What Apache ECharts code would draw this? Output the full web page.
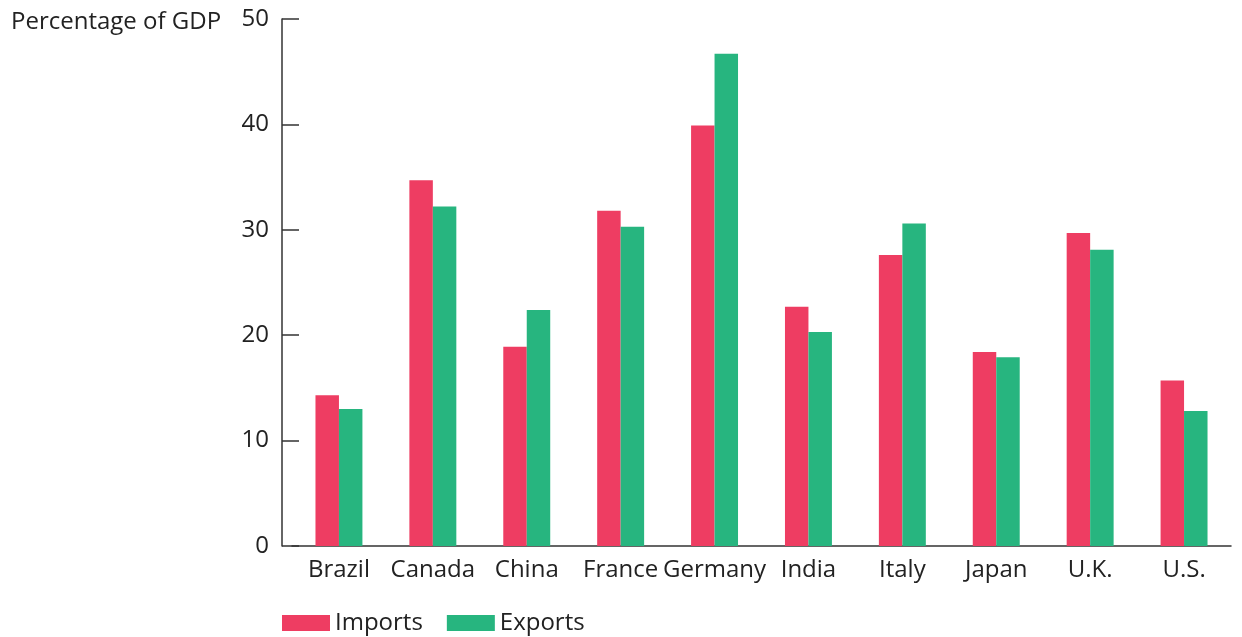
<!DOCTYPE html>
<html>
<head>
<meta charset="utf-8">
<script src="https://cdn.jsdelivr.net/npm/echarts@6/dist/echarts.min.js"></script>
<style>
  html, body { margin: 0; padding: 0; background: #fff; }
  #chart { width: 1242px; height: 637px; }
</style>
</head>
<body>
<div id="chart"></div>
<script>
const countries = ['Brazil', 'Canada', 'China', 'France', 'Germany', 'India', 'Italy', 'Japan', 'U.K.', 'U.S.'];
const imports = [14.3, 34.7, 18.9, 31.8, 39.9, 22.7, 27.6, 18.4, 29.7, 15.7];
const exports = [13.0, 32.2, 22.4, 30.3, 46.7, 20.3, 30.6, 17.9, 28.1, 12.8];

const font = 'Open Sans';
const ink = '#222';

const option = {
  backgroundColor: '#ffffff',
  color: ['#ee3d62', '#27b57f'],
  animation: false,
  title: {
    text: 'Percentage of GDP',
    left: 6,
    top: 5,
    textStyle: { fontFamily: font, fontSize: 24, fontWeight: 'normal', color: ink }
  },
  legend: {
    left: 277,
    top: 606,
    itemWidth: 48,
    itemHeight: 16,
    itemGap: 24,
    icon: 'rect',
    textStyle: { fontFamily: font, fontSize: 24, color: ink },
    data: ['Imports', 'Exports']
  },
  grid: {
    left: 292,
    right: 11,
    top: 19,
    bottom: 91
  },
  xAxis: {
    type: 'category',
    data: countries,
    axisLine: { lineStyle: { color: '#333', width: 1.5 } },
    axisTick: { show: false },
    axisLabel: { fontFamily: font, fontSize: 24, color: ink, margin: 12, interval: 0 }
  },
  yAxis: {
    type: 'value',
    min: 0,
    max: 50,
    interval: 10,
    offset: 10,
    axisLine: { show: true, lineStyle: { color: '#333', width: 1.5 } },
    axisTick: { show: true, inside: true, length: 17, lineStyle: { color: '#333', width: 1.5 } },
    splitLine: { show: false },
    axisLabel: { fontFamily: font, fontSize: 24, color: ink, margin: 13 }
  },
  series: [{
    name: 'Imports',
    type: 'bar',
    data: imports,
    barGap: '0%',
    barCategoryGap: '50%'
  }, {
    name: 'Exports',
    type: 'bar',
    data: exports,
    barGap: '0%',
    barCategoryGap: '50%'
  }]
};

const myChart = echarts.init(document.getElementById('chart'));
myChart.setOption(option);
</script>
</body>
</html>
